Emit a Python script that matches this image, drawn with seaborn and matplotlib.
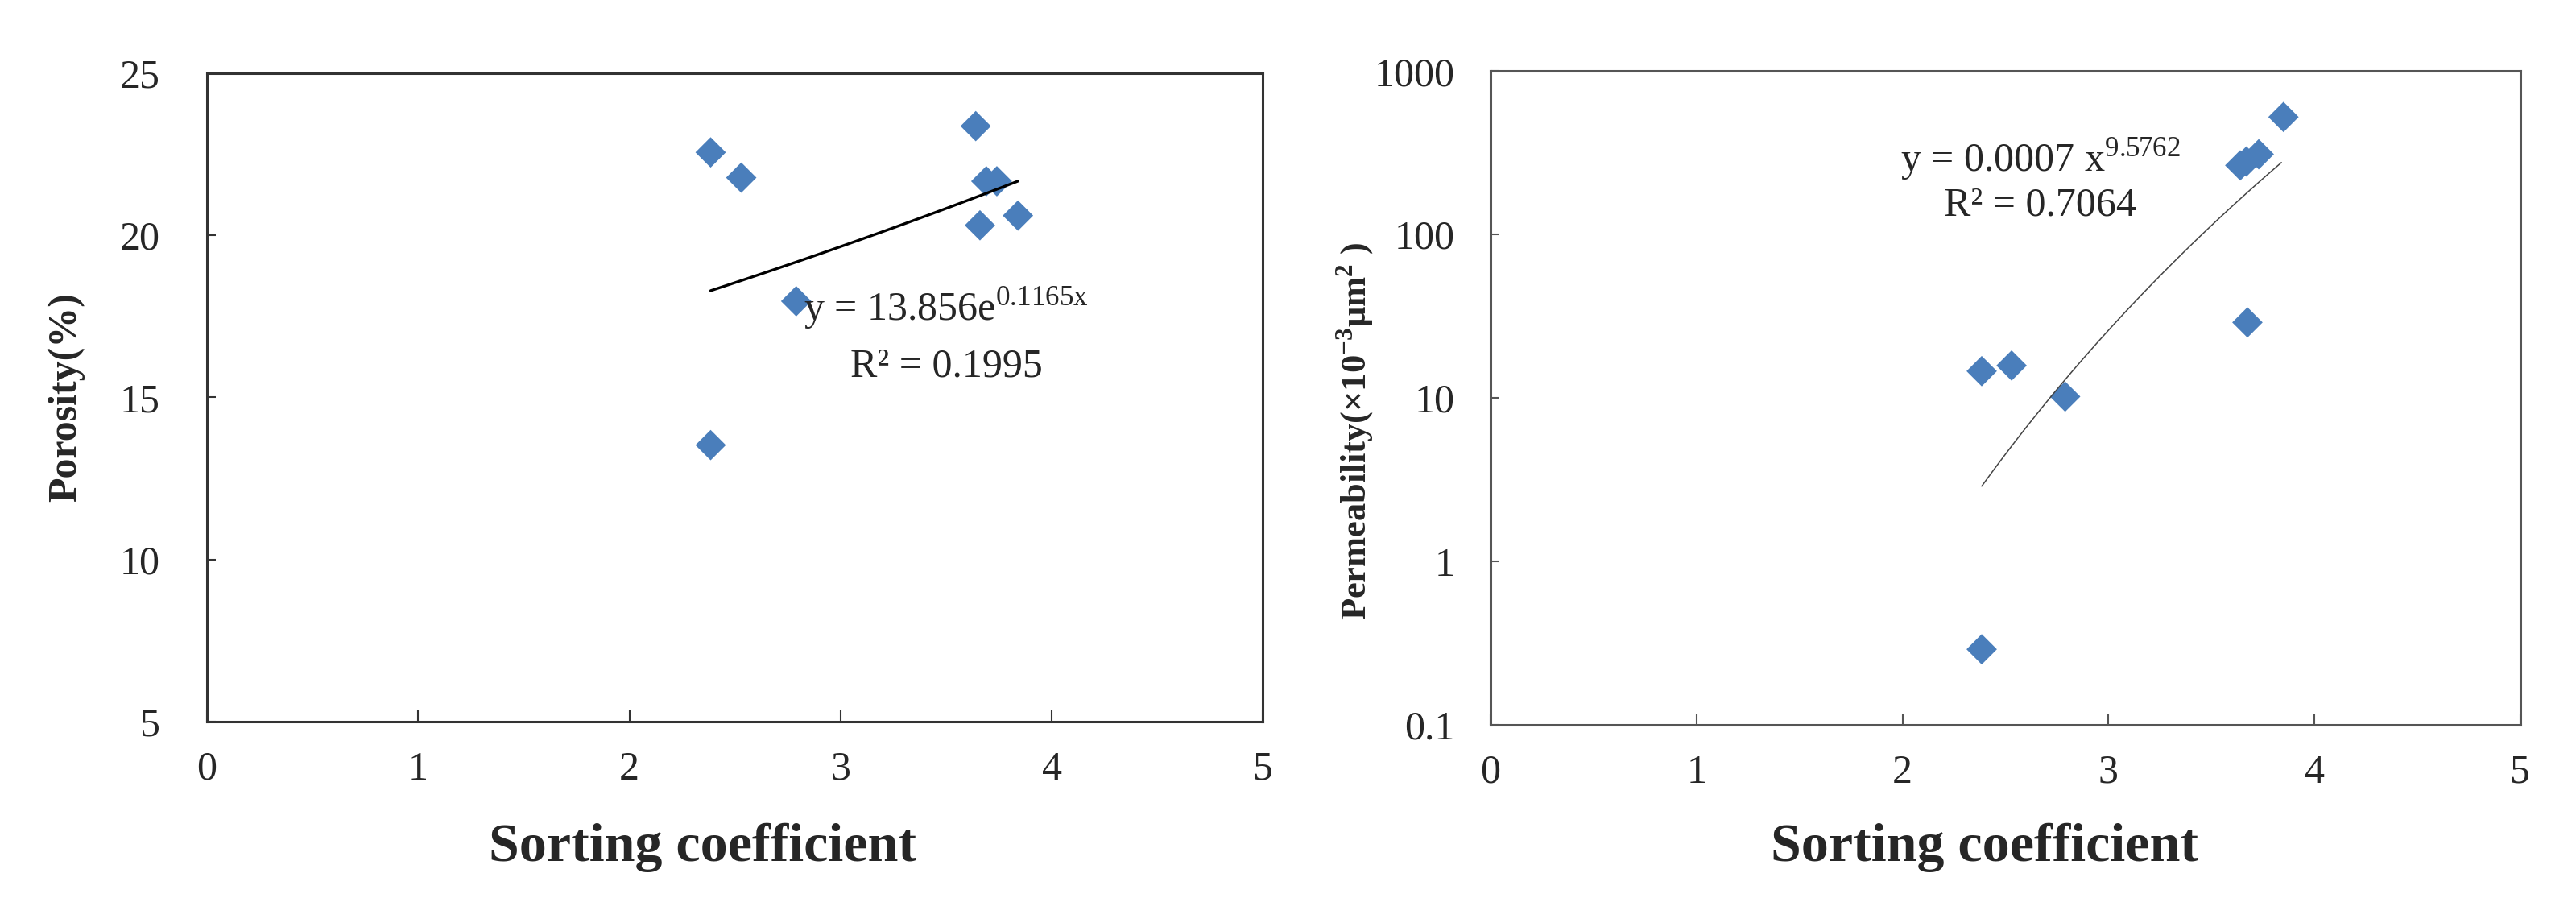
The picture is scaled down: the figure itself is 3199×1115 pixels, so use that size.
import numpy as np
import pandas as pd
import matplotlib
matplotlib.use("Agg")
import matplotlib.pyplot as plt
import matplotlib.ticker as mticker
import seaborn as sns

# values
sorting_coef = [2.385, 2.385, 2.53, 2.79, 3.64, 3.66, 3.69, 3.74, 3.84]
porosity = [22.56, 13.53, 21.78, 17.97, 23.37, 20.31, 21.67, 21.67, 20.61]
sorting_coef_k = [2.385, 2.385, 2.53, 2.79, 3.64, 3.675, 3.67, 3.73, 3.85]
permeability = [14.6, 0.29, 15.8, 10.2, 265, 29, 280, 310, 524]

# trendline coefficients printed on the chart
exp_a, exp_b, exp_r2 = 13.856, 0.1165, 0.1995
pow_a, pow_b, pow_r2 = 0.0007, 9.5762, 0.7064

x_ticks = [0, 1, 2, 3, 4, 5]
por_ticks = [5, 10, 15, 20, 25]
perm_ticks = [0.1, 1, 10, 100, 1000]
perm_tick_labels = ["0.1", "1", "10", "100", "1000"]

marker_color = "#4A7EBB"

sns.set_theme(style="white")
plt.rcParams["font.family"] = ["Liberation Serif", "DejaVu Serif"]
plt.rcParams["mathtext.fontset"] = "custom"
plt.rcParams["mathtext.rm"] = "Liberation Serif"
plt.rcParams["mathtext.bf"] = "Liberation Serif:bold"

df_por = pd.DataFrame({"sorting": sorting_coef, "porosity": porosity})
df_perm = pd.DataFrame({"sorting": sorting_coef_k, "permeability": permeability})

fig = plt.figure(figsize=(31.99, 11.15), dpi=100)
ax1 = fig.add_axes([0.0803, 0.1964, 0.410, 0.722])
ax2 = fig.add_axes([0.5786, 0.1928, 0.3998, 0.728])


def style_axes(ax, spine_color, ypad):
    for sp in ax.spines.values():
        sp.set_visible(True)
        sp.set_color(spine_color)
        sp.set_linewidth(2.2)
    ax.tick_params(axis="x", direction="in", length=10, width=1.5, color=spine_color,
                   labelsize=36, pad=26, bottom=True, top=False)
    ax.tick_params(axis="y", direction="in", length=8, width=1.5, color=spine_color,
                   labelsize=36, pad=ypad, left=True, right=False)
    ax.set_xlim(0, 5)
    ax.set_xticks(x_ticks)
    ax.grid(False)


# ---- left: porosity ----
sns.scatterplot(data=df_por, x="sorting", y="porosity", marker="D", s=370,
                color=marker_color, edgecolor="none", ax=ax1, zorder=3)
xs = np.linspace(min(sorting_coef), max(sorting_coef), 100)
trend_exp = pd.DataFrame({"x": xs, "y": exp_a * np.exp(exp_b * xs)})
sns.lineplot(data=trend_exp, x="x", y="y", color="black", linewidth=2.4, ax=ax1, zorder=4)
style_axes(ax1, "#333333", 42)
ax1.set_ylim(5, 25)
ax1.set_yticks(por_ticks)
ax1.set_xlabel("Sorting coefficient", fontsize=49, fontweight="bold")
ax1.xaxis.set_label_coords(0.469, -0.156)
ax1.set_ylabel("Porosity(%)", fontsize=36, fontweight="bold")
ax1.yaxis.set_label_coords(-0.116, 0.5)
ax1.text(3.50, 17.75, r"y = 13.856e$^{\mathrm{0.1165x}}$", fontsize=36, ha="center", va="center", zorder=5)
ax1.text(3.50, 15.95, "R² = %.4f" % exp_r2, fontsize=36, ha="center", va="center", zorder=5)

# ---- right: permeability ----
sns.scatterplot(data=df_perm, x="sorting", y="permeability", marker="D", s=370,
                color=marker_color, edgecolor="none", ax=ax2, zorder=3)
xk = np.linspace(min(sorting_coef_k), max(sorting_coef), 100)
trend_pow = pd.DataFrame({"x": xk, "y": pow_a * xk ** pow_b})
sns.lineplot(data=trend_pow, x="x", y="y", color="#444444", linewidth=1.1, ax=ax2, zorder=4)
ax2.set_yscale("log")
style_axes(ax2, "#555555", 32)
ax2.set_ylim(0.1, 1000)
ax2.yaxis.set_major_locator(mticker.FixedLocator(perm_ticks))
ax2.yaxis.set_major_formatter(mticker.FixedFormatter(perm_tick_labels))
ax2.yaxis.set_minor_locator(mticker.NullLocator())
ax2.set_xlabel("Sorting coefficient", fontsize=49, fontweight="bold")
ax2.xaxis.set_label_coords(0.48, -0.150)
ax2.set_ylabel(r"Permeability(×10$^{\mathbf{-3}}$μm$^{\mathbf{2}}$ )", fontsize=32, fontweight="bold")
ax2.yaxis.set_label_coords(-0.111, 0.45)
ax2.text(2.67, 290, r"y = 0.0007 x$^{\mathrm{9.5762}}$", fontsize=36, ha="center", va="center", zorder=5)
ax2.text(2.67, 150, "R² = %.4f" % pow_r2, fontsize=36, ha="center", va="center", zorder=5)

fig.savefig("out.png", dpi=100, facecolor="white")
